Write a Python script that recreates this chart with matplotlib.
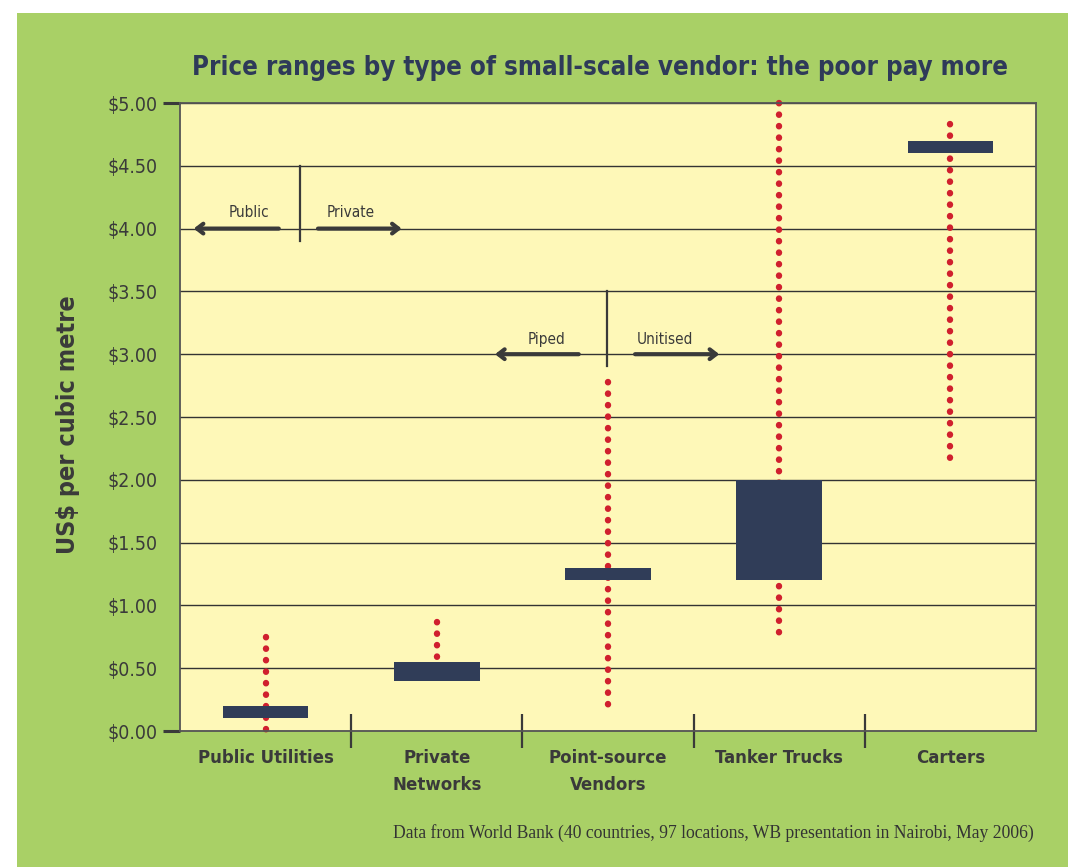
import numpy as np
import matplotlib
matplotlib.use('Agg')
import matplotlib.pyplot as plt
from matplotlib.patches import Rectangle

# price ranges (US$ per cubic metre)
vendors = ['Public Utilities', 'Private\nNetworks', 'Point-source\nVendors',
           'Tanker Trucks', 'Carters']
bar_low = [0.10, 0.40, 1.20, 1.20, 4.60]
bar_high = [0.20, 0.55, 1.30, 2.00, 4.70]
dot_low = [0.01, 0.42, 0.16, 0.72, 2.12]
dot_high = [0.75, 0.87, 2.78, 5.00, 4.83]

yticks = [0, 0.5, 1, 1.5, 2, 2.5, 3, 3.5, 4, 4.5, 5]
ytick_labels = ['$%.2f' % v for v in yticks]

GREEN = '#a9d066'
YELLOW = '#fef8b8'
NAVY = '#303d58'
RED = '#d0202e'
GREY = '#3a3a3a'

FONT = dict(family='DejaVu Sans', stretch='condensed')

fig = plt.figure(figsize=(10.68, 8.67), dpi=100, facecolor='white')
fig.patches.append(Rectangle((17 / 1068, 0), 1, 1 - 13 / 867, transform=fig.transFigure,
                             facecolor=GREEN, edgecolor='none', zorder=-10))

ax = fig.add_axes([180 / 1068, 136 / 867, 856 / 1068, 628 / 867])
ax.set_facecolor(YELLOW)
x = np.arange(len(vendors)) + 0.5

# dotted red ranges, drawn under the bars
for xi, lo, hi in zip(x, dot_low, dot_high):
    ax.plot([xi, xi], [hi, lo], color=RED, lw=4.6, linestyle=(0, (0.05, 1.75)),
            dash_capstyle='round', zorder=2, clip_on=False)

ax.bar(x, np.array(bar_high) - np.array(bar_low), bottom=bar_low, width=0.5,
       color=NAVY, zorder=3)

ax.set_xlim(0, 5)
ax.set_ylim(0, 5)
ax.set_yticks(yticks)
ax.set_yticklabels(ytick_labels, color=GREY, fontsize=14, **FONT)
ax.tick_params(axis='y', length=0, pad=16)
ax.yaxis.grid(True, color='#333333', lw=1.0, zorder=1)
ax.set_axisbelow(True)

ax.set_xticks(x)
ax.set_xticklabels(vendors, color=GREY, fontsize=13.3, fontweight='bold',
                   linespacing=1.65, **FONT)
ax.tick_params(axis='x', which='major', length=0, pad=13)
ax.set_xticks([1, 2, 3, 4], minor=True)
ax.tick_params(axis='x', which='minor', direction='inout', length=25,
               width=1.6, color=GREY)

for s in ax.spines.values():
    s.set_color('#555555')
    s.set_linewidth(1.3)

# end ticks at $5.00 and $0.00
for yv in [0, 5]:
    ax.plot([-0.1, 0], [yv, yv], color=GREY, lw=2.2, clip_on=False,
            solid_capstyle='butt')

# Public / Private and Piped / Unitised markers
arrow_kw = dict(arrowstyle='->,head_length=0.45,head_width=0.35', color=GREY,
                lw=3, shrinkA=0, shrinkB=0)
ax.plot([0.70, 0.70], [3.90, 4.50], color=GREY, lw=1.6)
ax.annotate('', xy=(0.08, 4.0), xytext=(0.577, 4.0), arrowprops=arrow_kw)
ax.annotate('', xy=(1.295, 4.0), xytext=(0.806, 4.0), arrowprops=arrow_kw)
ax.text(0.403, 4.13, 'Public', ha='center', va='center', fontsize=11, color=GREY, **FONT)
ax.text(0.997, 4.13, 'Private', ha='center', va='center', fontsize=11, color=GREY, **FONT)

ax.plot([2.492, 2.492], [2.905, 3.50], color=GREY, lw=1.6)
ax.annotate('', xy=(1.84, 3.0), xytext=(2.329, 3.0), arrowprops=arrow_kw)
ax.annotate('', xy=(3.15, 3.0), xytext=(2.658, 3.0), arrowprops=arrow_kw)
ax.text(2.142, 3.12, 'Piped', ha='center', va='center', fontsize=11, color=GREY, **FONT)
ax.text(2.833, 3.12, 'Unitised', ha='center', va='center', fontsize=11, color=GREY, **FONT)

fig.text(600 / 1068, 1 - 68 / 867,
         'Price ranges by type of small-scale vendor: the poor pay more',
         ha='center', va='center', fontsize=18.5, fontweight='bold', color='#2e3a59', **FONT)
fig.text(68 / 1068, 1 - 425 / 867, 'US$ per cubic metre', rotation=90,
         ha='center', va='center', fontsize=18, fontweight='bold', color=GREY, **FONT)
fig.text(1034 / 1068, 1 - 833 / 867,
         'Data from World Bank (40 countries, 97 locations, WB presentation in Nairobi, May 2006)',
         ha='right', va='center', fontsize=12.7, color='#333333', family='Liberation Serif')

fig.savefig('out.png', dpi=100, facecolor=fig.get_facecolor())
